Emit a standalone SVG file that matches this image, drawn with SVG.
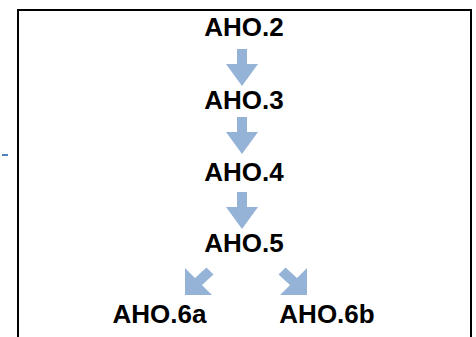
<svg xmlns="http://www.w3.org/2000/svg" width="476" height="337" viewBox="0 0 476 337">
<style>
.lbl{font-family:"Liberation Sans",Arial,sans-serif;font-weight:bold;font-size:26px;fill:#000;text-anchor:middle}
.arr{fill:#95b3d7}
</style>
<defs>
<path id="down" d="M-5,0 H5 V15 H16 L0,37 L-16,15 H-5 Z"/>
</defs>
<rect x="0" y="0" width="476" height="337" fill="#fff"/>
<rect x="18" y="10" width="453" height="340" fill="none" stroke="#000" stroke-width="2"/>
<rect x="2" y="154" width="6" height="2" fill="#4f81bd"/>
<g id="connectors">
<use href="#down" class="arr" x="242" y="49"/>
<use href="#down" class="arr" x="242" y="117"/>
<use href="#down" class="arr" x="242" y="192"/>
<polygon class="arr" points="185,295 185,268 195,278 206.5,267.5 213.5,274.5 202,285 212,295"/>
<polygon class="arr" points="307,295 307,268 297,278 285.5,267.5 278.5,274.5 290,285 280,295"/>
</g>
<g id="aho2"><text class="lbl" x="244" y="36">AHO.2</text></g>
<g id="aho3"><text class="lbl" x="244" y="109">AHO.3</text></g>
<g id="aho4"><text class="lbl" x="244" y="181">AHO.4</text></g>
<g id="aho5"><text class="lbl" x="244" y="252">AHO.5</text></g>
<g id="aho6a"><text class="lbl" x="159.5" y="323">AHO.6a</text></g>
<g id="aho6b"><text class="lbl" x="327" y="323">AHO.6b</text></g>
</svg>
